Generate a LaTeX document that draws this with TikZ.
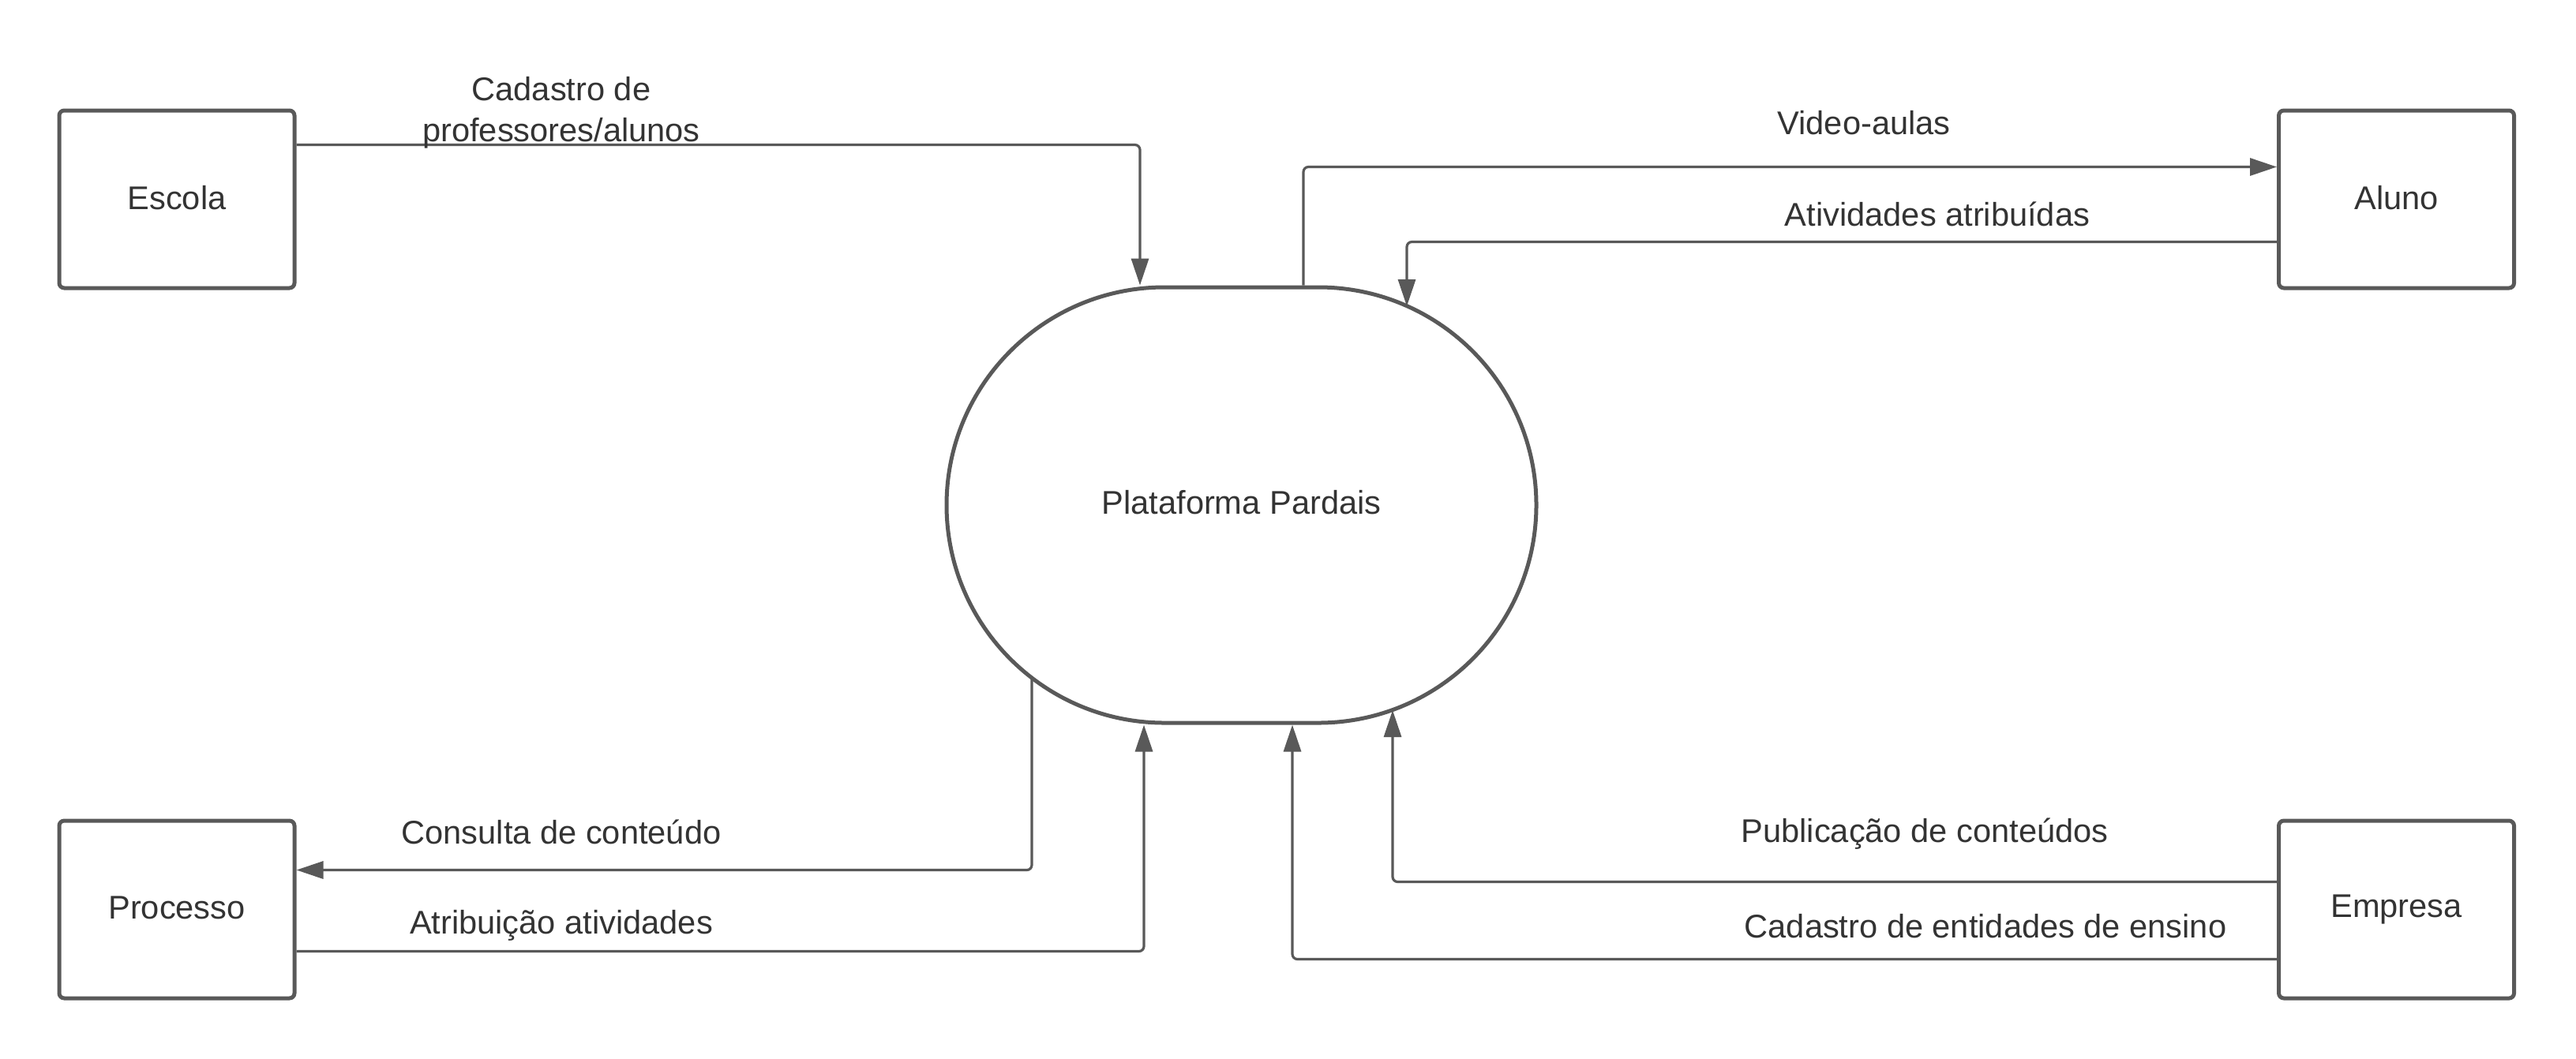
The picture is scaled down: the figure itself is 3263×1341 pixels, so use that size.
\documentclass[tikz,border=0pt]{standalone}
\usepackage{fontspec}
\setmainfont{Liberation Sans}
\usetikzlibrary{arrows.meta,calc}
\definecolor{lc}{HTML}{595959}
\definecolor{tc}{HTML}{333333}
\begin{document}
\begin{tikzpicture}[x=0.25pt,y=-0.25pt,
  txt/.style={font=\fontsize{10.4}{13}\selectfont,text=tc},
  entity/.style={txt,draw=lc,line width=1.25pt,rounded corners=1.6pt,minimum width=74.5pt,minimum height=56.25pt,inner sep=0pt},
  proc/.style={txt,draw=lc,line width=1.25pt,rounded corners=69pt,minimum width=186.75pt,minimum height=138pt,inner sep=0pt},
  flow/.style={draw=lc,line width=0.8pt,rounded corners=1.6pt,-{Triangle[length=8.5pt,width=5.5pt]}},
  lbl/.style={txt,align=center,inner sep=0pt}]
\useasboundingbox (0,0) rectangle (3263,1341);
\node[entity] (escola) at (224,252.5) {\raisebox{1pt}{Escola}};
\node[entity] (processo) at (224,1152.5) {\raisebox{1pt}{Processo}};
\node[entity] (aluno) at (3035.5,252.5) {\raisebox{1pt}{Aluno}};
\node[entity] (empresa) at (3035.5,1152.5) {\raisebox{1pt}{Empresa}};
\node[proc] (plat) at (1572.5,640) {\raisebox{2pt}{Plataforma Pardais}};
% points on the curved ends of the process shape
\coordinate (p1) at (1782,388);
\coordinate (p2) at (1307,859);
\coordinate (p3) at (1764,900);
% flows
\draw[flow] ($(escola.north east)+(0,46)$) -| ($(plat.north)+(-128.5,0)$);
\draw[flow] ($(plat.north)+(78.5,0)$) |- ($(aluno.north west)+(0,74)$);
\draw[flow] ($(aluno.north west)+(0,169)$) -| (p1);
\draw[flow] (p2) |- ($(processo.north east)+(0,65)$);
\draw[flow] ($(processo.north east)+(0,168)$) -| ($(plat.south)+(-123.5,0)$);
\draw[flow] ($(empresa.north west)+(0,80)$) -| (p3);
\draw[flow] ($(empresa.north west)+(0,178)$) -| ($(plat.south)+(64.5,0)$);
% labels
\node[lbl] (l1) at (711,143) {Cadastro de\\professores/alunos};
\node[lbl] (l2) at (2361,156) {Video-aulas};
\node[lbl] (l3) at (2454,271) {Atividades atribuídas};
\node[lbl] (l4) at (711,1054) {Consulta de conteúdo};
\node[lbl] (l5) at (711,1173) {Atribuição atividades};
\node[lbl] (l6) at (2438,1057) {Publicação de conteúdos};
\node[lbl] (l7) at (2515,1174) {Cadastro de entidades de ensino};
\end{tikzpicture}
\end{document}
